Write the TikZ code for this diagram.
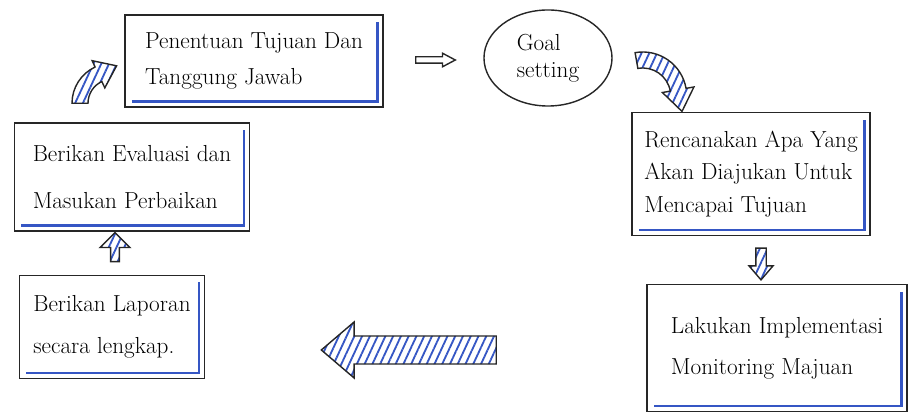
\documentclass[tikz,border=0pt]{standalone}
\usepackage{tikz}
\usetikzlibrary{shapes.geometric, calc, patterns.meta}

\definecolor{penblue}{HTML}{3556C4}
\definecolor{penink}{HTML}{262626}

% block arrow: [style]{tail}{tip}{shaft half width}{head half width}{head length}
\newcommand{\hatchedarrow}[6][]{%
  \coordinate (ha-base) at ($(#3)!#6!(#2)$);
  \draw[#1] ($(#2)!#4!90:(#3)$) -- ($(ha-base)!#4!90:(#3)$) -- ($(ha-base)!#5!90:(#3)$) -- (#3)
    -- ($(ha-base)!#5!-90:(#3)$) -- ($(ha-base)!#4!-90:(#3)$) -- ($(#2)!#4!-90:(#3)$) -- cycle;}

\begin{document}
\begin{tikzpicture}[
  x=0.025cm, y=0.025cm,
  stepbox/.style={rectangle, draw=penink, line width=1pt, align=left, font=\fontsize{16.5}{19}\selectfont,
    path picture={\draw[penblue, line width=1.6pt]
      ([shift={(5pt,4pt)}]path picture bounding box.south west)
      -- ([shift={(-4pt,4pt)}]path picture bounding box.south east)
      -- ([shift={(-4pt,-5pt)}]path picture bounding box.north east);}},
  bubble/.style={ellipse, draw=penink, line width=1pt, align=left, font=\fontsize{16.5}{19}\selectfont},
  hatch/.style={draw=penink, line width=1pt, pattern={Lines[angle=65, distance=5pt, line width=1.3pt]}, pattern color=penblue},
  openarrow/.style={draw=penink, line width=1pt}
]
\useasboundingbox (0,0) rectangle (910,414);

% Top row
\node[stepbox, minimum width=6.45cm, minimum height=2.3cm] (aim) at (254,353) {Penentuan Tujuan Dan\\[7pt]Tanggung Jawab};
\node[bubble, minimum width=3.2cm, minimum height=2.4cm] (setting) at (548,356) {Goal\\setting};

% Right column
\node[stepbox, minimum width=5.95cm, minimum height=3.07cm] (plan) at (751,240) {Rencanakan Apa Yang\\[4pt]Akan Diajukan Untuk\\[4pt]Mencapai Tujuan};
\node[stepbox, minimum width=6.5cm, minimum height=3.17cm] (act) at (777,66) {Lakukan Implementasi\\[10pt]Monitoring Majuan};

% Left column
\node[stepbox, minimum width=4.63cm, minimum height=2.58cm] (report) at (112,87) {Berikan Laporan\\[11pt]secara lengkap.};
\node[stepbox, minimum width=5.88cm, minimum height=2.7cm] (review) at (132,237) {Berikan Evaluasi dan\\[15pt]Masukan Perbaikan};

% Arrows
\coordinate (aimR) at ([shift={(32,1)}]aim.east);
\coordinate (settingL) at ([shift={(-28,-2)}]setting.west);
\hatchedarrow[openarrow]{aimR}{settingL}{0.08cm}{0.17cm}{0.32cm}

\coordinate (bendA) at ([shift={(30,-38)}]setting.east);
\draw[hatch] ($(bendA)+(100:44)$) arc[start angle=100, end angle=10, radius=44]
  -- ($(bendA)+(10:52)$) -- ($(bendA)+(10:36)+(-80:22)$) -- ($(bendA)+(10:20)$)
  -- ($(bendA)+(10:28)$) arc[start angle=10, end angle=100, radius=28] -- cycle;

\coordinate (planB) at ([shift={(10,-12)}]plan.south);
\coordinate (actT) at ([shift={(-16,4)}]act.north);
\hatchedarrow[hatch]{planB}{actT}{0.13cm}{0.3cm}{0.35cm}

\coordinate (actL) at ([shift={(-150,-2)}]act.west);
\coordinate (reportR) at ([shift={(116,-23)}]report.east);
\hatchedarrow[hatch]{actL}{reportR}{0.35cm}{0.7cm}{0.82cm}

\coordinate (reportT) at ([shift={(3,13)}]report.north);
\coordinate (reviewB) at ([shift={(-17,-1)}]review.south);
\hatchedarrow[hatch]{reportT}{reviewB}{0.11cm}{0.37cm}{0.37cm}

\coordinate (bendB) at ([shift={(-20,19)}]review.north);
\draw[hatch] ($(bendB)+(180:40)$) arc[start angle=180, end angle=115, radius=40]
  -- ($(bendB)+(115:47)$) -- ($(bendB)+(115:32)+(25:20)$) -- ($(bendB)+(115:17)$)
  -- ($(bendB)+(115:24)$) arc[start angle=115, end angle=180, radius=24] -- cycle;
\end{tikzpicture}
\end{document}
